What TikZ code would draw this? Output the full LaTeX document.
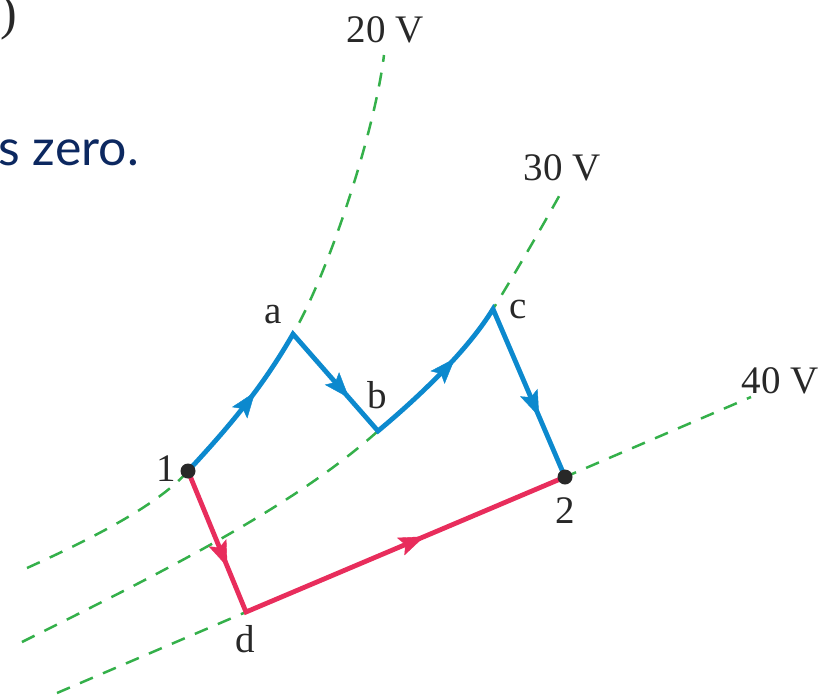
\documentclass[tikz,border=0pt]{standalone}
\usepackage{fontspec}
\setmainfont{Liberation Serif}
\newfontfamily\capsans{Lato}
\usetikzlibrary{arrows.meta,decorations.markings}
\definecolor{cblue}{RGB}{12,137,206}
\definecolor{cred}{RGB}{232,45,92}
\definecolor{cgreen}{RGB}{52,176,74}
\definecolor{ctext}{RGB}{40,40,40}
\definecolor{cnavy}{RGB}{12,40,96}
\tikzset{
  equi/.style={cgreen, line width=2.5pt, dash pattern=on 14pt off 11pt},
  bluepath/.style={cblue, line width=4.8pt, line join=miter},
  redpath/.style={cred, line width=4.8pt, line join=miter},
  midarrow/.style={postaction={decorate}, decoration={markings, mark=at position #1 with {\arrow{Stealth[length=26pt,width=19pt,inset=5pt]}}}},
  lbl/.style={ctext, anchor=base, inner sep=0pt, font=\fontsize{39}{45}\selectfont},
  dot/.style={circle, fill=ctext, minimum size=15pt, inner sep=0pt},
}
\begin{document}
\begin{tikzpicture}[x=1pt,y=-1pt]
\path[use as bounding box] (0,0) rectangle (825,697);

% points
\coordinate (p1) at (188,471);
\coordinate (pa) at (293,334);
\coordinate (pb) at (378,431);
\coordinate (pc) at (493,309);
\coordinate (p2) at (565,477);
\coordinate (pd) at (246,612);
\coordinate (e20a) at (27,568);
\coordinate (e20b) at (384,55);
\coordinate (e30a) at (22,642);
\coordinate (e30b) at (563,189);
\coordinate (e40a) at (57,693);
\coordinate (e40b) at (751,397);

% equipotential lines
\draw[equi] (e20a) .. controls (100,535) and (160,503) .. (p1)
  .. controls (228,428) and (262,388) .. (pa)
  .. controls (330,270) and (375,130) .. (e20b);
\draw[equi] (e30a) .. controls (150,578) and (290,510) .. (pb)
  .. controls (420,396) and (468,350) .. (pc)
  .. controls (510,282) and (545,222) .. (e30b);
\draw[equi] (e40a) -- (pd) -- (p2) -- (e40b);

% blue path
\draw[bluepath] (p1) .. controls (228,428) and (262,388) .. (pa)
  -- (pb) .. controls (420,396) and (468,350) .. (pc) -- (p2);
\path[cblue, midarrow=0.6] (p1) .. controls (228,428) and (262,388) .. (pa);
\path[cblue, midarrow=0.66] (pa) -- (pb);
\path[cblue, midarrow=0.63] (pb) .. controls (420,396) and (468,350) .. (pc);
\path[cblue, midarrow=0.64] (pc) -- (p2);

% red path
\draw[redpath] (p1) -- (pd) -- (p2);
\path[cred, midarrow=0.68] (p1) -- (pd);
\path[cred, midarrow=0.56] (pd) -- (p2);

% dots
\node[dot] (n1) at (p1) {};
\node[dot] (n2) at (p2) {};

% labels
\node[lbl] (l1) at (166,481) {1};
\node[lbl] (l2) at (565,523) {2};
\node[lbl] (la) at (273,323) {a};
\node[lbl] (lb) at (377,408) {b};
\node[lbl] (lc) at (518,318) {c};
\node[lbl] (ld) at (245,652) {d};
\node[lbl] (v20) at (385,42) {20 V};
\node[lbl] (v30) at (562,180) {30 V};
\node[lbl] (v40) at (780,393) {40 V};

% cropped text fragments
\node[ctext, anchor=base east, inner sep=0pt, font=\fontsize{50}{54}\selectfont] (paren) at (17,29) {)};
\node[cnavy, anchor=base east, inner sep=0pt, font=\capsans\fontsize{50}{58}\selectfont] (szero) at (139,165) {s zero.};
\end{tikzpicture}
\end{document}
